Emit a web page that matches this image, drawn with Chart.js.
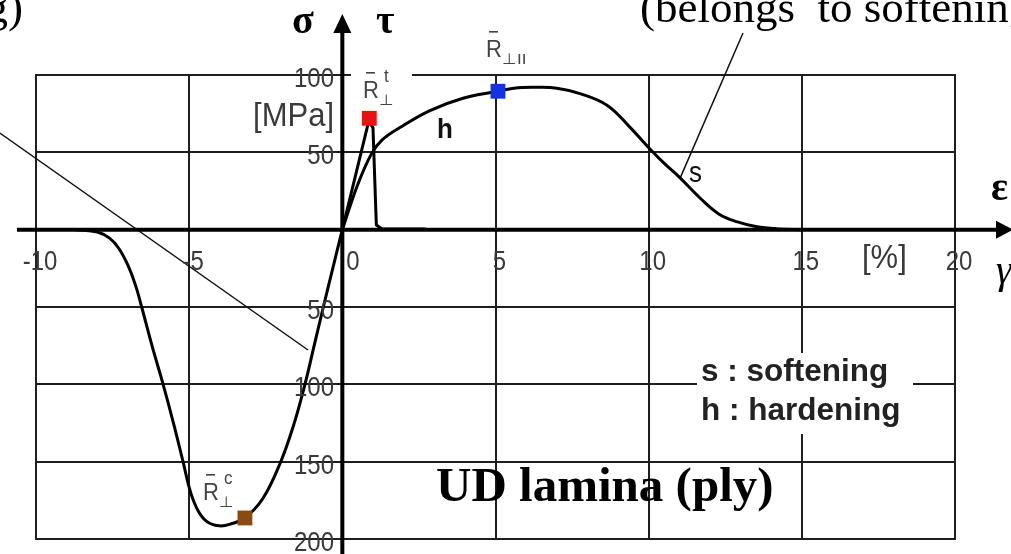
<!DOCTYPE html>
<html><head><meta charset="utf-8">
<script src="https://cdn.jsdelivr.net/npm/chart.js@4.4.0/dist/chart.umd.min.js"></script>
<style>html,body{margin:0;padding:0;background:#fff;overflow:hidden}</style>
</head><body>
<canvas id="c" width="1011" height="554"></canvas>
<script>
// ---- data ----
const xTicks = [-10, -5, 0, 5, 10, 15, 20];
const xTickLabels = ['-10', '-5', '0', '5', '10', '15', '20'];
const yTicks = [100, 50, 0, -50, -100, -150, -200];
const yTickLabels = ['100', '50', '', '50', '100', '150', '200'];

// sigma, compression branch (strain in %, stress in MPa)
const sigmaCompX = [-8.7, -8.0, -7.6, -7.3, -7.0, -6.75, -6.55, -6.2, -5.85, -5.5, -5.2, -4.95, -4.7, -4.4, -4.0, -3.6, -3.18, -2.6, -2.03, -1.6, -1.22, -0.92, -0.62, -0.3, 0];
const sigmaCompY = [0, -1.5, -5.5, -12, -23, -36, -50, -76, -100, -126, -150, -170, -182, -189, -191.5, -190, -186.4, -174, -151, -127, -100, -75, -50, -24, 0];
// sigma, tension branch
const sigmaTensX = [0, 0.86, 1.0, 1.11, 1.3, 2.7];
const sigmaTensY = [0, 70, 66, 3, 0.5, 0.5];

// tau (in-plane shear)
const tauX = [0, 0.5, 0.95, 1.3, 1.88, 2.86, 3.94, 5.08, 5.6, 6.3, 7.0, 7.76, 8.64, 9.4, 10.05, 10.5, 11.0, 11.7, 12.3, 12.9, 13.5, 14.2, 15];
const tauY = [0, 29, 49, 58, 66, 77, 85, 89.5, 91.5, 92, 91.5, 88, 80.5, 66, 52, 43, 34, 20, 10, 5, 2, 0.5, 0];

// strength points
const strengthNames = ['t', 'II', 'c'];
const strengthX = [0.88, 5.08, -3.18];
const strengthY = [72, 89.5, -186.4];

// annotation leader lines (data units)
const leaderA = [[-11.18, 62.5], [-1.12, -77.8]];
const leaderB = [[13.08, 127.2], [11.03, 33.5]];

const SANS = '"Liberation Sans", Arial, sans-serif';
const SERIF = '"Liberation Serif", "Times New Roman", serif';
const markerColors = ['#e41414', '#1432e0', '#8a4a14'];

function pts(xs, ys) { return xs.map((v, i) => ({ x: v, y: ys[i] })); }

function sText(ctx, t, x, y, sy) {
  ctx.save();
  ctx.translate(x, y);
  ctx.scale(1, sy);
  ctx.fillText(t, 0, 0);
  ctx.restore();
}

const deco = {
  id: 'deco',
  beforeDatasetsDraw(chart) {
    const { ctx, scales: { x, y } } = chart;
    ctx.save();
    const gx0 = x.getPixelForValue(xTicks[0]);
    const gx1 = x.getPixelForValue(xTicks[xTicks.length - 1]);
    const gy0 = y.getPixelForValue(yTicks[0]);
    const gy1 = y.getPixelForValue(yTicks[yTicks.length - 1]);
    ctx.strokeStyle = '#1e1e1e';
    ctx.lineWidth = 2;
    ctx.beginPath();
    xTicks.forEach(v => { if (v === 0) return; const p = Math.round(x.getPixelForValue(v)); ctx.moveTo(p, gy0 - 1); ctx.lineTo(p, gy1 + 1); });
    yTicks.forEach(v => { if (v === 0) return; const p = Math.round(y.getPixelForValue(v)); ctx.moveTo(gx0 - 1, p); ctx.lineTo(gx1 + 1, p); });
    ctx.stroke();
    // white backgrounds behind label boxes
    ctx.fillStyle = '#fff';
    ctx.fillRect(351, 66, 61, 18);
    ctx.fillRect(697, 353, 216, 81);
    // leader lines
    ctx.strokeStyle = '#111';
    ctx.lineWidth = 1.5;
    [leaderA, leaderB].forEach(L => {
      ctx.beginPath();
      ctx.moveTo(x.getPixelForValue(L[0][0]), y.getPixelForValue(L[0][1]));
      ctx.lineTo(x.getPixelForValue(L[1][0]), y.getPixelForValue(L[1][1]));
      ctx.stroke();
    });
    // axes
    const ox = x.getPixelForValue(0), oy = y.getPixelForValue(0);
    ctx.strokeStyle = '#000';
    ctx.lineWidth = 4;
    ctx.beginPath();
    ctx.moveTo(17, oy); ctx.lineTo(1000, oy);
    ctx.moveTo(ox, 560); ctx.lineTo(ox, 28);
    ctx.stroke();
    ctx.fillStyle = '#000';
    ctx.beginPath();
    ctx.moveTo(1013, oy); ctx.lineTo(996, oy - 9); ctx.lineTo(996, oy + 9); ctx.closePath();
    ctx.moveTo(ox, 14); ctx.lineTo(ox - 9, 33); ctx.lineTo(ox + 9, 33); ctx.closePath();
    ctx.fill();
    ctx.restore();
  },
  afterDatasetsDraw(chart) {
    const { ctx, scales: { x, y } } = chart;
    ctx.save();
    // tick labels
    ctx.fillStyle = '#3a3a3a';
    ctx.font = '24px ' + SANS;
    ctx.textBaseline = 'alphabetic';
    xTicks.forEach((v, i) => {
      const p = x.getPixelForValue(v);
      if (v === 0) { ctx.textAlign = 'left'; sText(ctx, xTickLabels[i], p + 4, 270, 1.12); }
      else { ctx.textAlign = 'center'; sText(ctx, xTickLabels[i], p + 4, 270, 1.12); }
    });
    ctx.textAlign = 'right';
    yTicks.forEach((v, i) => {
      if (!yTickLabels[i]) return;
      sText(ctx, yTickLabels[i], 334, y.getPixelForValue(v) + 12, 1.15);
    });
    ctx.font = '31px ' + SANS;
    sText(ctx, '[MPa]', 334, 126, 1.05);
    ctx.textAlign = 'left';
    sText(ctx, '[%]', 862, 268, 1.05);

    // strength labels
    function rbar(lx, base, sup, sub) {
      ctx.fillStyle = '#444';
      ctx.font = '22px ' + SANS;
      ctx.textAlign = 'left';
      sText(ctx, 'R', lx, base, 1.05);
      ctx.fillRect(lx + 3, base - 26, 9, 1.6);
      ctx.font = '17px ' + SANS;
      if (sup) sText(ctx, sup, lx + 21, base - 16, 1.05);
      if (sub) sText(ctx, sub, lx + 16, base + 7, 0.9);
    }
    rbar(363, 98, strengthNames[0], '⊥');
    rbar(486, 57, '', '⊥' + strengthNames[1]);
    rbar(203, 500, strengthNames[2], '⊥');

    // curve labels
    ctx.fillStyle = '#111';
    ctx.font = 'bold 26px ' + SANS;
    sText(ctx, 'h', 437, 138, 1.05);
    ctx.font = '26px ' + SANS;
    sText(ctx, 's', 689, 182, 1.1);

    // legend
    ctx.font = 'bold 31.5px ' + SANS;
    ctx.fillStyle = '#222';
    ctx.fillText('s : softening', 701, 381);
    ctx.fillText('h : hardening', 701, 420);

    // title
    ctx.fillStyle = '#000';
    ctx.font = 'bold 49px ' + SERIF;
    ctx.fillText('UD lamina (ply)', 436, 501);

    // axis symbols
    ctx.font = 'bold 40px ' + SERIF;
    ctx.fillText('σ', 292, 33);
    ctx.fillText('τ', 376, 33);
    ctx.fillText('ε', 991, 200);
    ctx.font = 'italic 40px ' + SERIF;
    ctx.fillText('γ', 996, 283);

    // cut-off annotation texts
    ctx.font = '45px ' + SERIF;
    ctx.fillText('(belongs  to softening)', 640, 22);
    ctx.textAlign = 'right';
    ctx.fillText('hardening)', 23, 22);
    ctx.restore();
  }
};

const curveStyle = { showLine: true, borderColor: '#000', borderWidth: 3, pointRadius: 0, fill: false, borderCapStyle: 'round', borderJoinStyle: 'round' };

new Chart(document.getElementById('c'), {
  type: 'scatter',
  data: {
    datasets: [
      {
        label: 'strength', order: 0,
        data: pts(strengthX, strengthY),
        pointStyle: 'rect', pointRadius: 10.5, borderWidth: 0,
        backgroundColor: markerColors, showLine: false
      },
      Object.assign({ label: 'sigma compression', order: 1, data: pts(sigmaCompX, sigmaCompY), tension: 0.4 }, curveStyle),
      Object.assign({ label: 'sigma tension', order: 2, data: pts(sigmaTensX, sigmaTensY), tension: 0 }, curveStyle),
      Object.assign({ label: 'tau', order: 3, data: pts(tauX, tauY), tension: 0.4 }, curveStyle)
    ]
  },
  options: {
    responsive: false, animation: false, devicePixelRatio: 1,
    layout: { padding: { left: 36, right: 56, top: 75, bottom: 15 } },
    scales: {
      x: { type: 'linear', min: -10, max: 20, display: false },
      y: { type: 'linear', min: -200, max: 100, display: false }
    },
    plugins: { legend: { display: false }, tooltip: { enabled: false } }
  },
  plugins: [deco]
});
</script>
</body></html>
